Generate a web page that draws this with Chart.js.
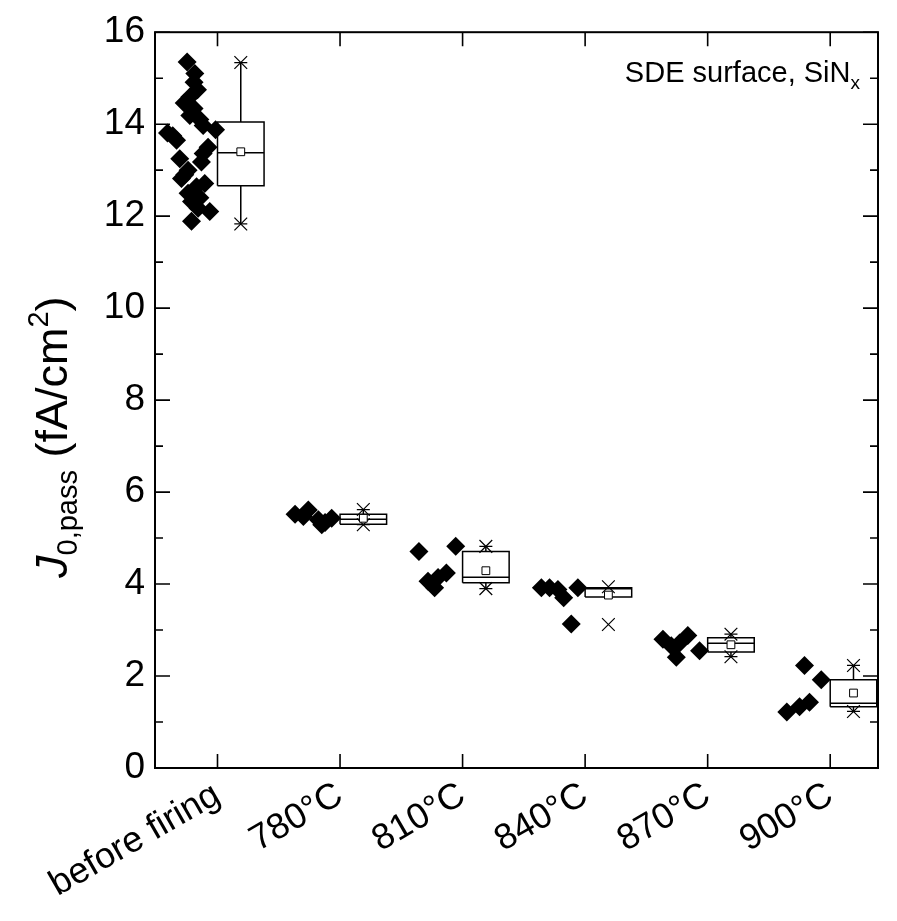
<!DOCTYPE html>
<html><head><meta charset="utf-8">
<script src="https://cdn.jsdelivr.net/npm/chart.js@4.4.0/dist/chart.umd.min.js"></script>
<style>html,body{margin:0;padding:0;background:#fff;} canvas{display:block;}</style>
</head><body>
<canvas id="c" width="897" height="921"></canvas>
<script>
// ---------- data ----------
const categories = ['before firing', '780°C', '810°C', '840°C', '870°C', '900°C'];
const yTickValues = [0, 2, 4, 6, 8, 10, 12, 14, 16];

// individual samples (x = jittered position in category units, y = J0,pass)
const beforeX = [0.752,0.815,0.809,0.837,0.774,0.728,0.809,0.774,0.856,0.883,0.984,0.592,0.666,0.923,0.883,0.692,0.869,0.760,0.706,0.896,0.829,0.760,0.788,0.842,0.937,0.788,0.733,0.856,0.635];
const beforeY = [15.35,15.10,14.91,14.75,14.59,14.46,14.34,14.19,14.10,13.97,13.88,13.81,13.65,13.50,13.36,13.25,13.18,13.00,12.82,12.71,12.64,12.50,12.32,12.17,12.10,11.89,12.90,12.40,13.75];
const f780X = [1.633,1.741,1.823,1.878,1.932,1.851,1.701];
const f780Y = [5.52,5.61,5.40,5.34,5.43,5.29,5.47];
const f810X = [2.644,2.944,2.868,2.800,2.718,2.772];
const f810Y = [4.71,4.82,4.24,4.14,4.06,3.92];
const f840X = [3.643,3.710,3.778,3.825,3.941,3.887];
const f840Y = [3.92,3.92,3.88,3.70,3.92,3.13];
const f870X = [4.635,4.703,4.744,4.838,4.934,4.771];
const f870Y = [2.80,2.66,2.41,2.88,2.55,2.72];
const f900X = [5.790,5.927,5.831,5.750,5.646];
const f900Y = [2.23,1.92,1.43,1.33,1.22];

// box statistics per category
const boxQ1     = [12.66, 5.30, 4.03, 3.72, 2.52, 1.33];
const boxQ3     = [14.05, 5.52, 4.71, 3.92, 2.83, 1.92];
const boxMedian = [13.38, 5.41, 4.15, 3.90, 2.71, 1.41];
const boxMean   = [13.40, 5.43, 4.29, 3.76, 2.68, 1.63];
const whiskerLow  = [11.83, 5.29, 3.90, 3.72, 2.42, 1.23];
const whiskerHigh = [15.34, 5.62, 4.82, 3.92, 2.91, 2.23];
const pct1  = [11.83, 5.29, 3.90, 3.12, 2.42, 1.23];   // x markers
const pct99 = [15.34, 5.62, 4.82, 3.94, 2.91, 2.23];
const minMark = [11.83, 5.29, 3.90, null, 2.42, 1.23]; // dash markers
const maxMark = [15.34, 5.62, 4.82, 3.92, 2.91, 2.23];

// ---------- layout constants ----------
const BOX_W = 0.38;          // box width in category units
const BOX_C = BOX_W / 2;     // whisker position offset
const FONT = "'Liberation Sans', Arial, Helvetica, sans-serif";

const zip = (xs, ys) => xs.map((x, i) => ({x, y: ys[i]}));
const samples = [].concat(zip(beforeX, beforeY), zip(f780X, f780Y), zip(f810X, f810Y),
                          zip(f840X, f840Y), zip(f870X, f870Y), zip(f900X, f900Y));

const boxPts = [], medPts = [], whiskPts = [], meanPts = [], p1Pts = [], p99Pts = [], dashPts = [];
categories.forEach((c, i) => {
  const x0 = i + 1, x1 = i + 1 + BOX_W, xc = i + 1 + BOX_C;
  boxPts.push({x:x0,y:boxQ1[i]},{x:x1,y:boxQ1[i]},{x:x1,y:boxQ3[i]},{x:x0,y:boxQ3[i]},{x:x0,y:boxQ1[i]},{x:x0,y:null});
  medPts.push({x:x0,y:boxMedian[i]},{x:x1,y:boxMedian[i]},{x:x1,y:null});
  whiskPts.push({x:xc,y:boxQ3[i]},{x:xc,y:whiskerHigh[i]},{x:xc,y:null},{x:xc,y:boxQ1[i]},{x:xc,y:whiskerLow[i]},{x:xc,y:null});
  meanPts.push({x:xc,y:boxMean[i]});
  p1Pts.push({x:xc,y:pct1[i]});
  p99Pts.push({x:xc,y:pct99[i]});
  if (minMark[i] !== null) dashPts.push({x:xc,y:minMark[i]});
  if (maxMark[i] !== null) dashPts.push({x:xc,y:maxMark[i]});
});

const frame = {
  id: 'frame',
  afterDraw(chart) {
    const {ctx, chartArea: a, scales: {x, y}} = chart;
    ctx.save();
    ctx.strokeStyle = '#000';
    ctx.lineWidth = 2;
    ctx.strokeRect(a.left, a.top, a.right - a.left, a.bottom - a.top);
    ctx.lineWidth = 1.6;
    ctx.beginPath();
    for (let v = 0; v <= 16; v++) {
      const py = y.getPixelForValue(v);
      const len = v % 2 === 0 ? 15 : 8;
      ctx.moveTo(a.left, py); ctx.lineTo(a.left + len, py);
      ctx.moveTo(a.right, py); ctx.lineTo(a.right - len, py);
    }
    categories.forEach((c, i) => {
      const px = x.getPixelForValue(i + 1);
      ctx.moveTo(px, a.bottom); ctx.lineTo(px, a.bottom - 14);
      ctx.moveTo(px, a.top); ctx.lineTo(px, a.top + 14);
    });
    ctx.stroke();
    // annotation
    ctx.fillStyle = '#000';
    ctx.textBaseline = 'alphabetic';
    ctx.textAlign = 'left';
    ctx.font = '29px ' + FONT;
    const t = 'SDE surface, SiN';
    const w = ctx.measureText(t).width;
    ctx.font = '19px ' + FONT;
    const wx = ctx.measureText('x').width;
    const sx = 860 - w - wx;
    ctx.font = '29px ' + FONT;
    ctx.fillText(t, sx, 82);
    ctx.font = '19px ' + FONT;
    ctx.fillText('x', sx + w, 89);
    // y title
    ctx.translate(67, 578);
    ctx.rotate(-Math.PI / 2);
    let cx = 0;
    const seg = (txt, font, dy) => { ctx.font = font; ctx.fillText(txt, cx, dy); cx += ctx.measureText(txt).width; };
    seg('J', 'italic 45px ' + FONT, 0);
    seg('0,pass', '29px ' + FONT, 10);
    seg(' (fA/cm', '45px ' + FONT, 0);
    seg('2', '29px ' + FONT, -19);
    seg(')', '45px ' + FONT, 0);
    ctx.restore();
  }
};

new Chart(document.getElementById('c'), {
  type: 'scatter',
  data: {
    datasets: [
      {label: 'samples', data: samples, pointStyle: 'rectRot', pointRadius: 9.5, pointBorderWidth: 0,
       backgroundColor: '#000', borderColor: '#000'},
      {label: 'mean', data: meanPts, pointStyle: 'rect', pointRadius: 5.5, pointBorderWidth: 1,
       backgroundColor: '#fff', borderColor: '#000'},
      {label: '1/99%', data: p1Pts.concat(p99Pts), pointStyle: 'crossRot', pointRadius: 9, pointBorderWidth: 1.2,
       borderColor: '#000', backgroundColor: '#000'},
      {label: 'min/max', data: dashPts, pointStyle: 'line', pointRadius: 6.5, pointBorderWidth: 1.2,
       borderColor: '#000', backgroundColor: '#000'},
      {label: 'median', data: medPts, showLine: true, spanGaps: false, pointRadius: 0, borderWidth: 1.5, borderColor: '#000'},
      {label: 'whiskers', data: whiskPts, showLine: true, spanGaps: false, pointRadius: 0, borderWidth: 1.5, borderColor: '#000'},
      {label: 'boxes', data: boxPts, showLine: true, spanGaps: false, pointRadius: 0, borderWidth: 1.5, borderColor: '#000'}
    ]
  },
  options: {
    responsive: false,
    animation: false,
    devicePixelRatio: 1,
    layout: {padding: {top: 28, right: 19, left: 0, bottom: 0}},
    plugins: {legend: {display: false}, tooltip: {enabled: false}},
    scales: {
      x: {
        type: 'linear', min: 0.49, max: 6.39,
        grid: {display: false, drawTicks: false}, border: {display: false},
        afterBuildTicks: (s) => { s.ticks = categories.map((c, i) => ({value: i + 1})); },
        afterFit: (s) => { s.height = 153; },
        ticks: {
          autoSkip: false, minRotation: 30, maxRotation: 30, padding: 6, color: '#000',
          font: {family: FONT, size: 36},
          callback: (v) => categories[Math.round(v) - 1]
        }
      },
      y: {
        min: 0, max: 16,
        grid: {display: false, drawTicks: false}, border: {display: false},
        afterBuildTicks: (s) => { s.ticks = yTickValues.map(v => ({value: v})); },
        afterFit: (s) => { s.width = 155; },
        ticks: {padding: 10, color: '#000', font: {family: FONT, size: 37}}
      }
    }
  },
  plugins: [frame]
});
</script>
</body></html>
